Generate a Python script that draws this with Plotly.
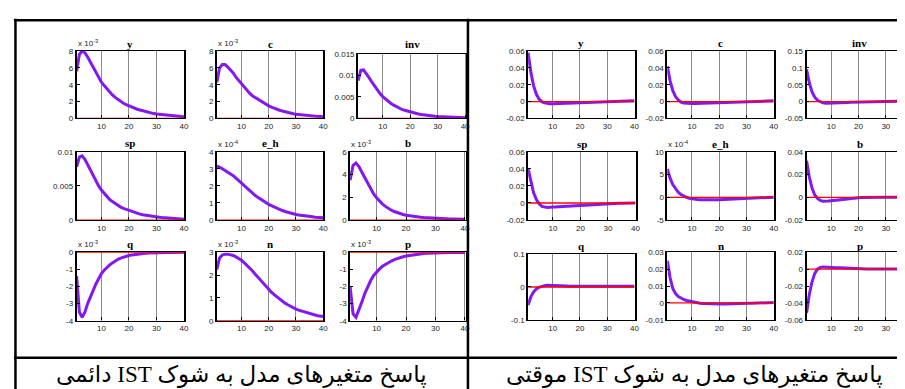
import plotly.graph_objects as go

W, H = 905, 389
periods = list(range(1, 41))

# ---------------- data: permanent IST shock (left panel) ----------------
perm_y_e3 = [5.6, 7.6, 8.0, 7.8, 7.3, 6.7, 6.1, 5.4, 4.8, 4.3, 3.9, 3.5, 3.1, 2.8, 2.5, 2.25, 2.0, 1.8, 1.65, 1.5,
             1.35, 1.2, 1.1, 1.0, 0.9, 0.8, 0.72, 0.65, 0.58, 0.52, 0.48, 0.44, 0.4, 0.37, 0.34, 0.31, 0.28, 0.26, 0.24, 0.22]
perm_c_e3 = [4.3, 6.0, 6.4, 6.4, 6.1, 5.8, 5.4, 4.9, 4.5, 4.1, 3.7, 3.4, 3.0, 2.7, 2.5, 2.2, 2.0, 1.8, 1.65, 1.5,
             1.35, 1.2, 1.1, 0.98, 0.88, 0.78, 0.7, 0.62, 0.56, 0.5, 0.46, 0.42, 0.38, 0.35, 0.32, 0.29, 0.27, 0.25, 0.23, 0.21]
perm_inv = [0.0088, 0.0112, 0.0113, 0.0105, 0.0095, 0.0085, 0.0075, 0.0066, 0.0058, 0.0051, 0.0045, 0.0040, 0.0035,
            0.0031, 0.0027, 0.0024, 0.0021, 0.0019, 0.0017, 0.0015, 0.00135, 0.0012, 0.00105, 0.00093, 0.00082,
            0.00073, 0.00065, 0.00058, 0.00052, 0.00047, 0.00043, 0.00039, 0.00035, 0.00032, 0.00029, 0.00026,
            0.00024, 0.00022, 0.0002, 0.00018]
perm_sp = [0.0078, 0.0092, 0.0094, 0.0089, 0.0081, 0.0073, 0.0065, 0.0057, 0.0050, 0.0044, 0.0039, 0.0034, 0.0030,
           0.0027, 0.0024, 0.0021, 0.0019, 0.0017, 0.00155, 0.0014, 0.00125, 0.0011, 0.00098, 0.00087, 0.00077,
           0.00069, 0.00062, 0.00055, 0.00049, 0.00044, 0.0004, 0.00036, 0.00033, 0.0003, 0.00027, 0.00024,
           0.00021, 0.00018, 0.00015, 0.00012]
perm_eh_e4 = [3.15, 3.1, 3.0, 2.9, 2.8, 2.7, 2.6, 2.45, 2.3, 2.15, 2.0, 1.85, 1.7, 1.57, 1.45, 1.33, 1.22, 1.1, 1.0, 0.92,
              0.84, 0.76, 0.69, 0.62, 0.56, 0.5, 0.45, 0.41, 0.37, 0.33, 0.3, 0.27, 0.25, 0.23, 0.21, 0.19, 0.17, 0.15, 0.14, 0.13]
perm_b_e3 = [3.5, 4.8, 5.0, 4.7, 4.2, 3.7, 3.2, 2.7, 2.3, 1.95, 1.65, 1.4, 1.2, 1.02, 0.87, 0.75, 0.65, 0.56, 0.49, 0.43,
             0.38, 0.34, 0.3, 0.27, 0.24, 0.22, 0.2, 0.18, 0.16, 0.15, 0.14, 0.13, 0.12, 0.11, 0.1, 0.1, 0.09, 0.09, 0.08, 0.08]
perm_q_e3 = [-1.4, -3.5, -3.8, -3.5, -3.0, -2.6, -2.2, -1.85, -1.55, -1.25, -1.05, -0.88, -0.74, -0.62, -0.5, -0.41,
             -0.34, -0.28, -0.23, -0.19, -0.16, -0.13, -0.1, -0.08, -0.065, -0.05, -0.04, -0.03, -0.025, -0.02,
             -0.016, -0.013, -0.011, -0.009, -0.008, -0.007, -0.006, -0.005, -0.004, -0.003]
perm_n_e3 = [2.25, 2.75, 2.88, 2.92, 2.92, 2.9, 2.86, 2.8, 2.73, 2.65, 2.55, 2.44, 2.32, 2.19, 2.05, 1.91, 1.77, 1.63,
             1.5, 1.37, 1.25, 1.14, 1.04, 0.94, 0.85, 0.77, 0.7, 0.63, 0.57, 0.51, 0.46, 0.42, 0.38, 0.34, 0.31,
             0.28, 0.25, 0.22, 0.2, 0.18]
perm_p_e3 = [-2.0, -3.6, -3.8, -3.4, -2.9, -2.4, -2.0, -1.65, -1.35, -1.15, -0.97, -0.82, -0.7, -0.6, -0.51, -0.43,
             -0.36, -0.3, -0.26, -0.22, -0.19, -0.16, -0.13, -0.11, -0.09, -0.075, -0.06, -0.05, -0.04, -0.035,
             -0.03, -0.025, -0.02, -0.017, -0.014, -0.012, -0.01, -0.008, -0.006, -0.005]

# ---------------- data: temporary IST shock (right panel) ----------------
temp_y = [0.058, 0.035, 0.019, 0.009, 0.003, 0.0, -0.0015, -0.0022, -0.0025, -0.0025, -0.0024, -0.0022, -0.002,
          -0.0018, -0.0016, -0.0014, -0.0013, -0.0012, -0.0011, -0.001, -0.0009, -0.0008, -0.0007, -0.0006,
          -0.0005, -0.0004, -0.0003, -0.0002, -0.0001, 0.0, 0.0, 0.0001, 0.0001, 0.0002, 0.0002, 0.0003,
          0.0004, 0.0005, 0.0007, 0.0009]
temp_c = [0.042, 0.025, 0.013, 0.006, 0.002, -0.0005, -0.0015, -0.002, -0.0022, -0.0022, -0.0021, -0.002, -0.0019,
          -0.0017, -0.0016, -0.0014, -0.0013, -0.0012, -0.0011, -0.001, -0.0009, -0.0008, -0.0007, -0.0006,
          -0.0005, -0.0004, -0.0003, -0.0002, -0.0001, 0.0, 0.0, 0.0001, 0.0001, 0.0002, 0.0002, 0.0003,
          0.0004, 0.0005, 0.0007, 0.0009]
temp_inv = [0.095, 0.056, 0.029, 0.013, 0.004, -0.001, -0.0035, -0.0045, -0.0045, -0.0042, -0.004, -0.0037,
            -0.0034, -0.003, -0.0027, -0.0024, -0.0021, -0.0018, -0.0015, -0.0012, -0.001, -0.0008, -0.0006,
            -0.0004, -0.0002, 0.0, 0.0003, 0.0006, 0.001, 0.0015, 0.002, 0.002, 0.002, 0.002, 0.002, 0.002,
            0.002, 0.002, 0.002, 0.002]
temp_sp = [0.040, 0.024, 0.012, 0.004, -0.001, -0.004, -0.005, -0.0052, -0.005, -0.0048, -0.0045, -0.0042, -0.004,
           -0.0037, -0.0035, -0.0032, -0.003, -0.0027, -0.0025, -0.0022, -0.002, -0.0018, -0.0016, -0.0014,
           -0.0012, -0.001, -0.0009, -0.0008, -0.0007, -0.0006, -0.0005, -0.0004, -0.0003, -0.0002, -0.0002,
           -0.0001, -0.0001, 0.0, 0.0, 0.0]
temp_eh_e4 = [6.2, 4.2, 2.8, 1.8, 1.1, 0.6, 0.25, 0.0, -0.2, -0.35, -0.45, -0.5, -0.55, -0.57, -0.58, -0.58, -0.57,
              -0.56, -0.55, -0.53, -0.5, -0.48, -0.45, -0.42, -0.4, -0.37, -0.34, -0.31, -0.28, -0.25, -0.22,
              -0.2, -0.17, -0.14, -0.11, -0.08, -0.05, -0.02, 0.0, 0.03]
temp_b = [0.032, 0.018, 0.008, 0.002, -0.001, -0.0028, -0.0034, -0.0035, -0.0033, -0.003, -0.0027, -0.0024,
          -0.0021, -0.0018, -0.0015, -0.0012, -0.001, -0.0008, -0.0006, -0.0004, -0.0003, -0.0002, -0.0001,
          0.0, 0.0, 0.0, 0.0, 0.0, 0.0, 0.0, 0.0, 0.0, 0.0, 0.0, 0.0, 0.0, 0.0, 0.0, 0.0, 0.0]
temp_q = [-0.055, -0.03, -0.015, -0.006, -0.001, 0.002, 0.004, 0.005, 0.005, 0.005, 0.005, 0.0045, 0.004, 0.0035,
          0.003, 0.0025, 0.002, 0.002, 0.002, 0.002, 0.002, 0.002, 0.002, 0.002, 0.002, 0.002, 0.002, 0.002,
          0.002, 0.002, 0.002, 0.002, 0.002, 0.002, 0.002, 0.002, 0.002, 0.002, 0.002, 0.002]
temp_n = [0.025, 0.015, 0.0085, 0.0055, 0.0038, 0.0027, 0.002, 0.0014, 0.001, 0.0006, 0.0003, 0.0, -0.0002,
          -0.0004, -0.0005, -0.0006, -0.0007, -0.0007, -0.0007, -0.0007, -0.0007, -0.0007, -0.0006, -0.0006,
          -0.0005, -0.0005, -0.0004, -0.0004, -0.0003, -0.0003, -0.0002, -0.0002, -0.0001, -0.0001, 0.0, 0.0,
          0.0001, 0.0001, 0.0002, 0.0002]
temp_p = [-0.052, -0.03, -0.015, -0.005, 0.0, 0.002, 0.0027, 0.0027, 0.0025, 0.0023, 0.002, 0.0018, 0.0016,
          0.0014, 0.0012, 0.001, 0.0009, 0.0008, 0.0007, 0.0006, 0.0005, 0.0004, 0.0003, 0.0003, 0.0002, 0.0002,
          0.0001, 0.0001, 0.0, 0.0, 0.0, 0.0, 0.0, 0.0, 0.0, 0.0, 0.0, 0.0, 0.0, 0.0]

# ---------------- tick labels ----------------
x_ticks = [10, 20, 30, 40]
ticks_0_8 = [0, 2, 4, 6, 8]
ticks_0_6 = [0, 2, 4, 6]
ticks_0_4 = [0, 1, 2, 3, 4]
ticks_0_3 = [0, 1, 2, 3]
ticks_m4_0 = [-4, -3, -2, -1, 0]
ticks_inv_perm = [0, 0.005, 0.01, 0.015]
ticks_sp_perm = [0, 0.005, 0.01]
ticks_m02_06 = [-0.02, 0, 0.02, 0.04, 0.06]
ticks_inv_temp = [-0.05, 0, 0.05, 0.1, 0.15]
ticks_eh_temp = [-5, 0, 5, 10]
ticks_b_temp = [-0.02, 0, 0.02, 0.04]
ticks_q_temp = [-0.1, 0, 0.1]
ticks_n_temp = [-0.01, 0, 0.01, 0.02, 0.03]
ticks_p_temp = [-0.06, -0.04, -0.02, 0, 0.02]

caption_perm = "پاسخ متغیرهای مدل به شوک IST دائمی"
caption_temp = "پاسخ متغیرهای مدل به شوک IST موقتی"

E3 = "x 10<sup>-3</sup>"
E4 = "x 10<sup>-4</sup>"

# layout specs (pixel boxes: x0,x1,y0,y1), title y in px
panels = [
    # left (permanent)
    dict(t="y", d=perm_y_e3, box=(69, 177, 40, 109), yr=(0, 8), yt=ticks_0_8, xr=(1, 40), ex=E3, ty=33),
    dict(t="c", d=perm_c_e3, box=(210, 317, 40, 109), yr=(0, 8), yt=ticks_0_8, xr=(1, 40), ex=E3, ty=33),
    dict(t="inv", d=perm_inv, box=(352, 461, 43, 109), yr=(0, 0.015), yt=ticks_inv_perm, xr=(1, 40.5), ex=None, ty=33),
    dict(t="sp", d=perm_sp, box=(69, 177, 143, 213), yr=(0, 0.01), yt=ticks_sp_perm, xr=(1, 40), ex=None, ty=134),
    dict(t="e_h", d=perm_eh_e4, box=(210, 317, 143, 213), yr=(0, 4), yt=ticks_0_4, xr=(1, 40), ex=E4, ty=134),
    dict(t="b", d=perm_b_e3, box=(344, 461, 143, 213), yr=(0, 6), yt=ticks_0_6, xr=(1, 40.5), ex=E3, ty=134),
    dict(t="q", d=perm_q_e3, box=(69, 177, 246, 316), yr=(-4, 0), yt=ticks_m4_0, xr=(1, 40), ex=E3, ty=238),
    dict(t="n", d=perm_n_e3, box=(210, 317, 246, 316), yr=(0, 3), yt=ticks_0_3, xr=(1, 40), ex=E3, ty=238),
    dict(t="p", d=perm_p_e3, box=(344, 461, 246, 316), yr=(-4, 0), yt=ticks_m4_0, xr=(1, 40.5), ex=E3, ty=238),
    # right (temporary)
    dict(t="y", d=temp_y, box=(523, 630, 40, 109), yr=(-0.02, 0.06), yt=ticks_m02_06, xr=(1, 40), ex=None, ty=32),
    dict(t="c", d=temp_c, box=(663, 770, 40, 109), yr=(-0.02, 0.06), yt=ticks_m02_06, xr=(1, 40), ex=None, ty=32),
    dict(t="inv", d=temp_inv, box=(803, 905, 40, 109), yr=(-0.05, 0.15), yt=ticks_inv_temp, xr=(1, 38.1), ex=None, ty=32),
    dict(t="sp", d=temp_sp, box=(523, 631, 143, 213), yr=(-0.02, 0.06), yt=ticks_m02_06, xr=(1, 40), ex=None, ty=135),
    dict(t="e_h", d=temp_eh_e4, box=(663, 770, 143, 213), yr=(-5, 10), yt=ticks_eh_temp, xr=(1, 40), ex=E4, ty=135),
    dict(t="b", d=temp_b, box=(803, 905, 143, 213), yr=(-0.02, 0.04), yt=ticks_b_temp, xr=(1, 38.1), ex=None, ty=135),
    dict(t="q", d=temp_q, box=(523, 630, 248, 315), yr=(-0.1, 0.1), yt=ticks_q_temp, xr=(1, 40), ex=None, ty=240),
    dict(t="n", d=temp_n, box=(663, 770, 246, 315), yr=(-0.01, 0.03), yt=ticks_n_temp, xr=(1, 40), ex=None, ty=240),
    dict(t="p", d=temp_p, box=(803, 905, 246, 315), yr=(-0.06, 0.02), yt=ticks_p_temp, xr=(1, 38.1), ex=None, ty=240),
]

PURPLE = "#8418f0"
RED = "#ff0000"
TICKFONT = dict(family="Liberation Sans, Arial", size=8, color="#222")


def fx(px):
    return px / W


def fy(py):
    return 1 - py / H


def fmt(v):
    return "%g" % v


fig = go.Figure()
annotations = []
layout_axes = {}

for i, p in enumerate(panels, start=1):
    xs = "x" if i == 1 else f"x{i}"
    ys = "y" if i == 1 else f"y{i}"
    xk = "xaxis" if i == 1 else f"xaxis{i}"
    yk = "yaxis" if i == 1 else f"yaxis{i}"
    x0, x1, y0, y1 = p["box"]
    right_edge = x1 >= W
    layout_axes[xk] = dict(
        domain=[fx(x0), fx(x1)], anchor=ys, range=list(p["xr"]),
        tickvals=x_ticks, ticktext=[str(t) for t in x_ticks],
        showgrid=True, gridcolor="#8c8c8c", gridwidth=1,
        showline=True, linecolor="black", linewidth=1.4, mirror=True,
        ticks="inside", ticklen=3, tickcolor="black",
        zeroline=False, tickfont=TICKFONT, fixedrange=True,
    )
    layout_axes[yk] = dict(
        domain=[fy(y1), fy(y0)], anchor=xs, range=list(p["yr"]),
        tickvals=p["yt"], ticktext=[fmt(t) for t in p["yt"]],
        showgrid=False, showline=True, linecolor="black", linewidth=1.8,
        mirror=(not right_edge), ticks="inside", ticklen=3, tickcolor="black",
        zeroline=False, tickfont=TICKFONT, fixedrange=True,
    )
    fig.add_trace(go.Scatter(x=periods, y=p["d"], mode="lines", xaxis=xs, yaxis=ys,
                             line=dict(color=PURPLE, width=3), hoverinfo="skip"))
    fig.add_trace(go.Scatter(x=[periods[0], periods[-1]], y=[0, 0], mode="lines", xaxis=xs, yaxis=ys,
                             line=dict(color=RED, width=1.3), hoverinfo="skip"))
    cx = (x0 + x1) / 2 if not right_edge else (x0 + 910) / 2
    annotations.append(dict(text="<b>" + p["t"] + "</b>", x=fx(cx),
                            y=fy(p["ty"]), xref="paper", yref="paper", showarrow=False,
                            xanchor="center", yanchor="middle",
                            font=dict(family="Liberation Serif, Times New Roman", size=11, color="black")))
    if p["ex"]:
        annotations.append(dict(text=p["ex"], x=fx(x0 - 1), y=fy(y0 - 1), xref="paper", yref="paper",
                                showarrow=False, xanchor="left", yanchor="bottom",
                                font=dict(family="Liberation Sans, Arial", size=8, color="#222")))

for txt, cx in [(caption_perm, 235), (caption_temp, 690)]:
    annotations.append(dict(text="\u202b" + txt + "\u202c", x=fx(cx), y=fy(372), xref="paper", yref="paper",
                            showarrow=False, xanchor="center", yanchor="middle",
                            font=dict(family="Liberation Serif, DejaVu Serif, DejaVu Sans", size=23, color="black")))

shapes = []
for (a, b, c, d) in [(6, 8.5, 905, 8.5), (7.5, 7, 7.5, 389), (462.5, 7, 462.5, 389), (6, 354, 905, 354)]:
    shapes.append(dict(type="line", xref="paper", yref="paper", x0=fx(a), y0=fy(b), x1=fx(c), y1=fy(d),
                       line=dict(color="black", width=2.5), layer="above"))

fig.update_layout(
    width=W, height=H, margin=dict(l=0, r=0, t=0, b=0),
    paper_bgcolor="white", plot_bgcolor="white", showlegend=False,
    annotations=annotations, shapes=shapes, **layout_axes,
)

fig.write_html("out.html", config={"displayModeBar": False})
